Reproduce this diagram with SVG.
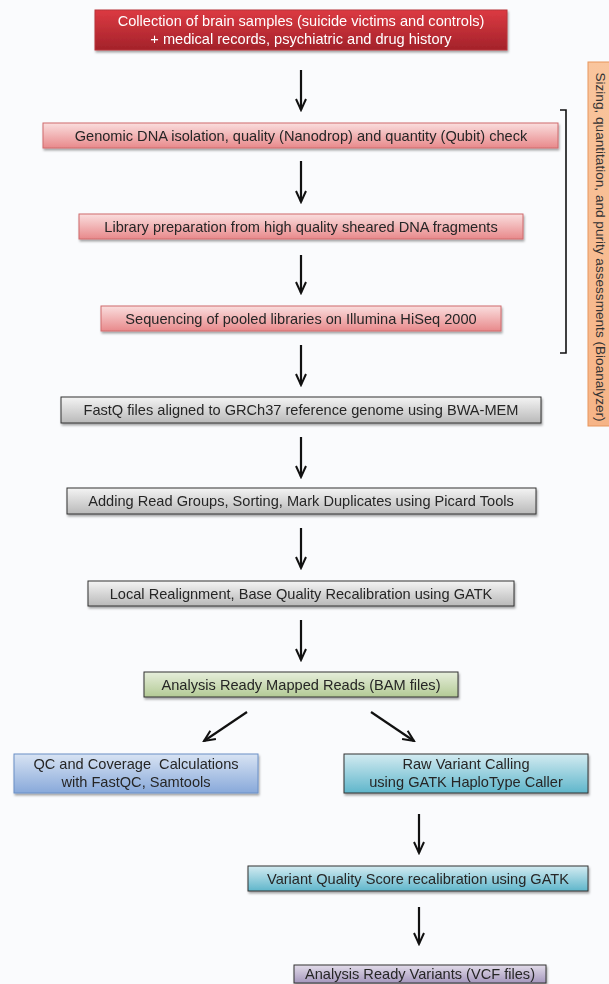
<svg xmlns="http://www.w3.org/2000/svg" width="609" height="984" viewBox="0 0 609 984">
<defs>
<style>
text{font-family:"Liberation Sans",Arial,sans-serif;font-size:14.6px;fill:#262626;text-anchor:middle;white-space:pre}
.w{fill:#ffffff}
.box{filter:url(#sh)}
.arr{stroke:#111;stroke-width:2.2;fill:none;marker-end:url(#ah)}
</style>
<filter id="sh" x="-10%" y="-30%" width="120%" height="170%">
<feDropShadow dx="1" dy="2" stdDeviation="1.3" flood-color="#000" flood-opacity="0.35"/>
</filter>
<marker id="ah" markerWidth="14" markerHeight="14" refX="12" refY="7" orient="auto" markerUnits="userSpaceOnUse" viewBox="0 0 14 14">
<path d="M1,2 L12,7 L1,12" fill="none" stroke="#111" stroke-width="2"/>
</marker>
<linearGradient id="gRed" x1="0" y1="0" x2="0" y2="1"><stop offset="0" stop-color="#dc3a42"/><stop offset="1" stop-color="#a3222a"/></linearGradient>
<linearGradient id="gPink" x1="0" y1="0" x2="0" y2="1"><stop offset="0" stop-color="#fadede"/><stop offset="1" stop-color="#e8898b"/></linearGradient>
<linearGradient id="gGray" x1="0" y1="0" x2="0" y2="1"><stop offset="0" stop-color="#f4f4f4"/><stop offset="1" stop-color="#b9b9b9"/></linearGradient>
<linearGradient id="gGreen" x1="0" y1="0" x2="0" y2="1"><stop offset="0" stop-color="#e6eedb"/><stop offset="1" stop-color="#b3ca95"/></linearGradient>
<linearGradient id="gBlue" x1="0" y1="0" x2="0" y2="1"><stop offset="0" stop-color="#d8e3f3"/><stop offset="1" stop-color="#88a9da"/></linearGradient>
<linearGradient id="gTeal" x1="0" y1="0" x2="0" y2="1"><stop offset="0" stop-color="#d3ebf1"/><stop offset="1" stop-color="#5fb6cb"/></linearGradient>
<linearGradient id="gPurple" x1="0" y1="0" x2="0" y2="1"><stop offset="0" stop-color="#e2dcea"/><stop offset="1" stop-color="#a597bd"/></linearGradient>
<linearGradient id="gOrange" x1="0" y1="0" x2="0" y2="1"><stop offset="0" stop-color="#f9c59d"/><stop offset="1" stop-color="#f6b487"/></linearGradient>
</defs>
<rect x="0" y="0" width="609" height="984" fill="#fafbfd"/>

<g id="n1" class="box"><rect x="95" y="10" width="412" height="40" fill="url(#gRed)" stroke="#b8343a" stroke-width="1"/>
<text class="w" x="301" y="25.5">Collection of brain samples (suicide victims and controls)</text>
<text class="w" x="301" y="43.5">+ medical records, psychiatric and drug history</text></g>

<g id="n2" class="box"><rect x="43" y="123" width="515" height="25" fill="url(#gPink)" stroke="#cf6a6c" stroke-width="1"/>
<text x="301" y="140.5">Genomic DNA isolation, quality (Nanodrop) and quantity (Qubit) check</text></g>

<g id="n3" class="box"><rect x="79" y="214" width="444" height="25" fill="url(#gPink)" stroke="#cf6a6c" stroke-width="1"/>
<text x="301" y="231.5">Library preparation from high quality sheared DNA fragments</text></g>

<g id="n4" class="box"><rect x="101" y="306" width="400" height="25" fill="url(#gPink)" stroke="#cf6a6c" stroke-width="1"/>
<text x="301" y="323.5">Sequencing of pooled libraries on Illumina HiSeq 2000</text></g>

<g id="n5" class="box"><rect x="61" y="397" width="480" height="26" fill="url(#gGray)" stroke="#333" stroke-width="1"/>
<text x="301" y="415">FastQ files aligned to GRCh37 reference genome using BWA-MEM</text></g>

<g id="n6" class="box"><rect x="67" y="488" width="469" height="26" fill="url(#gGray)" stroke="#333" stroke-width="1"/>
<text x="301" y="506">Adding Read Groups, Sorting, Mark Duplicates using Picard Tools</text></g>

<g id="n7" class="box"><rect x="88" y="581" width="426" height="25" fill="url(#gGray)" stroke="#333" stroke-width="1"/>
<text x="301" y="598.5">Local Realignment, Base Quality Recalibration using GATK</text></g>

<g id="n8" class="box"><rect x="144" y="672" width="314" height="25" fill="url(#gGreen)" stroke="#333" stroke-width="1"/>
<text x="301" y="689.5">Analysis Ready Mapped Reads (BAM files)</text></g>

<g id="n9" class="box"><rect x="14" y="754" width="244" height="39" fill="url(#gBlue)" stroke="#6b90c6" stroke-width="1"/>
<text x="136" y="768.5">QC and Coverage  Calculations</text>
<text x="136" y="786.5">with FastQC, Samtools</text></g>

<g id="n10" class="box"><rect x="344" y="754" width="244" height="39" fill="url(#gTeal)" stroke="#333" stroke-width="1"/>
<text x="466" y="768.5">Raw Variant Calling</text>
<text x="466" y="786.5">using GATK HaploType Caller</text></g>

<g id="n11" class="box"><rect x="248" y="866" width="340" height="25" fill="url(#gTeal)" stroke="#333" stroke-width="1"/>
<text x="418" y="883.5">Variant Quality Score recalibration using GATK</text></g>

<g id="n12" class="box"><rect x="294" y="965" width="252" height="18" fill="url(#gPurple)" stroke="#333" stroke-width="1"/>
<text x="420" y="978.5">Analysis Ready Variants (VCF files)</text></g>

<g id="side">
<rect x="588" y="62" width="24" height="364" fill="url(#gOrange)" stroke="#e7965d" stroke-width="1"/>
<text transform="translate(596,247) rotate(90)" style="font-size:13.6px;fill:#333">Sizing, quantitation, and purity assessments (Bioanalyzer)</text>
<path d="M560,110 H566 V353 H560" fill="none" stroke="#111" stroke-width="1.6"/>
</g>

<g id="connectors">
<line class="arr" x1="301" y1="70" x2="301" y2="110"/>
<line class="arr" x1="301" y1="161" x2="301" y2="202"/>
<line class="arr" x1="301" y1="255" x2="301" y2="293"/>
<line class="arr" x1="301" y1="345" x2="301" y2="385"/>
<line class="arr" x1="301" y1="437" x2="301" y2="477"/>
<line class="arr" x1="301" y1="528" x2="301" y2="568"/>
<line class="arr" x1="301" y1="620" x2="301" y2="660"/>
<line class="arr" x1="247" y1="712" x2="204" y2="741"/>
<line class="arr" x1="371" y1="712" x2="414" y2="741"/>
<line class="arr" x1="419" y1="814" x2="419" y2="853"/>
<line class="arr" x1="419" y1="907" x2="419" y2="944"/>
</g>
</svg>
